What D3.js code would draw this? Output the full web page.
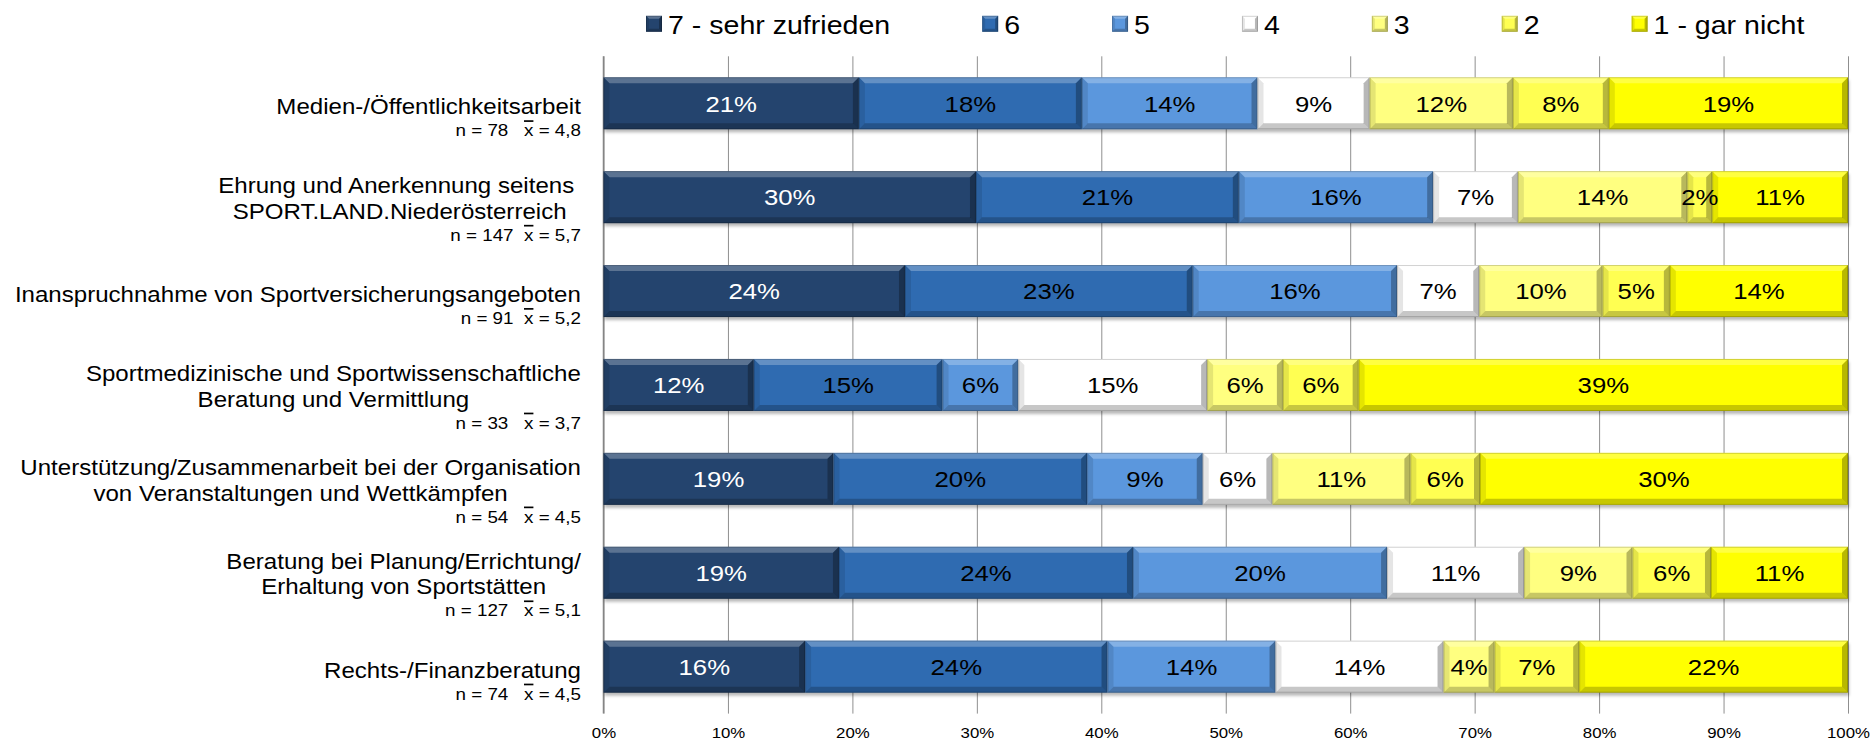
<!DOCTYPE html>
<html>
<head>
<meta charset="utf-8">
<script src="https://cdn.jsdelivr.net/npm/d3@7"></script>
<style>
  html, body { margin: 0; padding: 0; background: #fff; }
  svg { display: block; }
  text { font-family: "Liberation Sans", Arial, sans-serif; white-space: pre; }
</style>
</head>
<body>
<svg id="chart" width="1876" height="744"></svg>
<script>
// ---------- data ----------
const categoryLines = [
  ["Medien-/Öffentlichkeitsarbeit"],
  ["Ehrung und Anerkennung seitens ", "SPORT.LAND.Niederösterreich"],
  ["Inanspruchnahme von Sportversicherungsangeboten"],
  ["Sportmedizinische und Sportwissenschaftliche", "Beratung und Vermittlung"],
  ["Unterstützung/Zusammenarbeit bei der Organisation", "von Veranstaltungen und Wettkämpfen"],
  ["Beratung bei Planung/Errichtung/", "Erhaltung von Sportstätten"],
  ["Rechts-/Finanzberatung"]
];
const nValues = ["78", "147", "91", "33", "54", "127", "74"];
const meanValues = ["4,8", "5,7", "5,2", "3,7", "4,5", "5,1", "4,5"];
const nGap = ["   ", "  ", "  ", "   ", "   ", "   ", "   "];

const seriesNames = ["7 - sehr zufrieden", "6", "5", "4", "3", "2", "1 - gar nicht"];
const s7 = [20.5, 29.9, 24.2, 12.1, 18.5, 18.9, 16.2];
const s6 = [17.9, 21.1, 23.1, 15.2, 20.4, 23.6, 24.3];
const s5 = [14.1, 15.6, 16.4, 6.1, 9.3, 20.4, 13.5];
const s4 = [9.0, 6.8, 6.6, 15.2, 5.6, 11.0, 13.5];
const s3 = [11.5, 13.6, 9.9, 6.1, 11.1, 8.7, 4.1];
const s2 = [7.7, 2.0, 5.4, 6.1, 5.6, 6.3, 6.8];
const s1 = [19.2, 10.9, 14.3, 39.4, 29.6, 11.0, 21.6];
const seriesValues = [s7, s6, s5, s4, s3, s2, s1];
const seriesColors = ["#24446e", "#2f6bb1", "#5b97dd", "#ffffff", "#ffff80", "#ffff52", "#ffff00"];
const labelColors = ["#ffffff", "#000000", "#000000", "#000000", "#000000", "#000000", "#000000"];
const tickValues = [0, 0.1, 0.2, 0.3, 0.4, 0.5, 0.6, 0.7, 0.8, 0.9, 1.0];

// ---------- layout ----------
const SX = 1.12; // horizontal stretch of the reference text
const plot = { left: 603.5, right: 1848, top: 56.3, bottom: 713.6 };
const labelRight = 581;
const legendLeft = 646;

const svg = d3.select("#chart");
const rows = categoryLines.map((_, i) => i);

const x = d3.scaleLinear().domain([0, 1]).range([plot.left, plot.right]);
const y = d3.scaleBand().domain(rows).range([plot.top, plot.bottom])
  .paddingInner(0.446).paddingOuter(0.223);

const defs = svg.append("defs");
const f = defs.append("filter").attr("id", "shadow").attr("x", "-5%").attr("y", "-20%").attr("width", "110%").attr("height", "160%");
f.append("feGaussianBlur").attr("stdDeviation", 1.6);

// gridlines
const grid = svg.append("g")
  .attr("transform", `translate(0,${plot.bottom})`)
  .call(d3.axisBottom(x).tickValues(tickValues).tickSize(-(plot.bottom - plot.top)).tickFormat(""));
grid.select(".domain").remove();
grid.selectAll(".tick line").attr("stroke", "#8f8f8f").attr("stroke-width", 1);

// left axis line
svg.append("line")
  .attr("x1", x(0)).attr("x2", x(0))
  .attr("y1", plot.top).attr("y2", plot.bottom)
  .attr("stroke", "#858585").attr("stroke-width", 1.5);

// x tick labels
const xAxis = svg.append("g")
  .attr("transform", `translate(0,${plot.bottom})`)
  .call(d3.axisBottom(x).tickValues(tickValues).tickSize(0).tickPadding(0).tickFormat(d3.format(".0%")));
xAxis.select(".domain").remove();
xAxis.selectAll(".tick text")
  .attr("y", 24).attr("dy", 0)
  .attr("font-size", 15)
  .attr("fill", "#000")
  .attr("font-family", "'Liberation Sans', Arial, sans-serif")
  .attr("transform", `scale(${SX},1)`);

// stacked data
const stacked = rows.map(r => {
  const vals = seriesValues.map(s => s[r]);
  const total = d3.sum(vals);
  let acc = 0;
  return vals.map((v, k) => {
    const seg = { row: r, k, v, x0: acc / total, x1: (acc + v) / total };
    acc += v;
    return seg;
  });
});

function bevel(g, x0, y0, w, h, color, b) {
  g.append("rect").attr("x", x0).attr("y", y0).attr("width", w).attr("height", h).attr("fill", color);
  b = Math.min(b, w / 2, h / 2);
  const pts = a => a.map(p => p.join(",")).join(" ");
  g.append("polygon").attr("points", pts([[x0, y0], [x0 + w, y0], [x0 + w - b, y0 + b], [x0 + b, y0 + b]]))
    .attr("fill", "#fff").attr("fill-opacity", 0.25);
  g.append("polygon").attr("points", pts([[x0, y0 + h], [x0 + w, y0 + h], [x0 + w - b, y0 + h - b], [x0 + b, y0 + h - b]]))
    .attr("fill", "#000").attr("fill-opacity", 0.22);
  g.append("polygon").attr("points", pts([[x0, y0], [x0 + b, y0 + b], [x0 + b, y0 + h - b], [x0, y0 + h]]))
    .attr("fill", "#000").attr("fill-opacity", 0.10);
  g.append("polygon").attr("points", pts([[x0 + w, y0], [x0 + w - b, y0 + b], [x0 + w - b, y0 + h - b], [x0 + w, y0 + h]]))
    .attr("fill", "#000").attr("fill-opacity", 0.28);
  g.append("rect").attr("x", x0 + 0.5).attr("y", y0 + 0.5).attr("width", Math.max(0, w - 1)).attr("height", h - 1)
    .attr("fill", "none").attr("stroke", "#000").attr("stroke-opacity", 0.18).attr("stroke-width", 1);
}

// bars
const barsG = svg.append("g");
stacked.forEach(rowSegs => {
  const r = rowSegs[0].row;
  const y0 = y(r), h = y.bandwidth();
  barsG.append("rect")
    .attr("x", x(0) + 1).attr("y", y0 + 3).attr("width", x(1) - x(0)).attr("height", h)
    .attr("fill", "#000").attr("fill-opacity", 0.28).attr("filter", "url(#shadow)");
  rowSegs.forEach(s => {
    const g = barsG.append("g");
    bevel(g, x(s.x0), y0, x(s.x1) - x(s.x0), h, seriesColors[s.k], 6);
  });
  rowSegs.forEach(s => {
    barsG.append("text")
      .attr("transform", `translate(${(x(s.x0) + x(s.x1)) / 2},${y0 + h / 2 + 8.3}) scale(${SX},1)`)
      .attr("text-anchor", "middle")
      .attr("font-size", 23)
      .attr("fill", labelColors[s.k])
      .text(Math.round(s.v) + "%");
  });
});

// category labels
const catG = svg.append("g");
rows.forEach(r => {
  const lines = categoryLines[r];
  const c = y(r) + y.bandwidth() / 2;
  const L = lines.length;
  const firstBase = c + 11 - (L - 1) * 15;
  const step = 25.7;
  const texts = lines.map((ln, i) => catG.append("text")
    .attr("font-size", 21.5).attr("fill", "#000")
    .attr("text-anchor", "middle")
    .attr("xml:space", "preserve")
    .text(ln));
  const widths = texts.map(t => t.node().getComputedTextLength() * SX);
  const W = d3.max(widths);
  const cx = labelRight - W / 2;
  texts.forEach((t, i) => t.attr("transform", `translate(${cx},${firstBase + i * step}) scale(${SX},1)`));
  const nBase = firstBase + (L - 1) * step + 22;
  const nt = catG.append("text")
    .attr("transform", `translate(${labelRight},${nBase}) scale(${SX},1)`)
    .attr("text-anchor", "end")
    .attr("font-size", 16.8).attr("fill", "#000")
    .attr("xml:space", "preserve");
  nt.append("tspan").text("n = " + nValues[r] + nGap[r]);
  nt.append("tspan").style("text-decoration", "overline").text("x");
  nt.append("tspan").text(" = " + meanValues[r]);
});

// legend
const legG = svg.append("g");
const legItems = seriesNames.map((name, k) => {
  const g = legG.append("g");
  bevel(g, 0, -8, 16, 16, seriesColors[k], 3);
  const t = g.append("text")
    .attr("transform", `translate(22,10) scale(${SX},1)`)
    .attr("font-size", 25.5).attr("fill", "#000")
    .text(name);
  return { g, w: 22 + t.node().getComputedTextLength() * SX };
});
const legGap = 92;
let lx = legendLeft;
legItems.forEach(it => {
  it.g.attr("transform", `translate(${lx},${23.8})`);
  lx += it.w + legGap;
});
</script>
</body>
</html>
